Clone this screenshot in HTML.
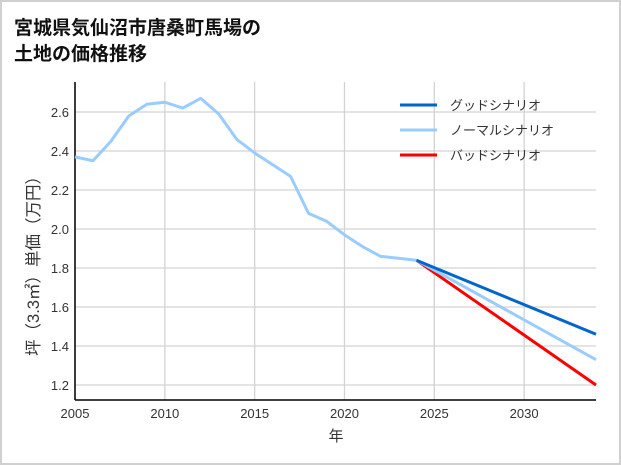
<!DOCTYPE html>
<html><head><meta charset="utf-8"><style>
body{margin:0;background:#fff;font-family:"Liberation Sans","Noto Sans CJK JP",sans-serif}
#frame{position:absolute;left:0;top:0;width:617px;height:461px;border:2px solid #d0d0d0;background:#fff}
</style></head><body>
<div id="frame"></div>
<svg id="c" width="621" height="465" style="position:absolute;left:0;top:0"></svg>
<script>
const years=[2005,2006,2007,2008,2009,2010,2011,2012,2013,2014,2015,2016,2017,2018,2019,2020,2021,2022,2023,2024];
const normal=[2.37,2.35,2.45,2.58,2.64,2.65,2.62,2.67,2.59,2.46,2.39,2.33,2.27,2.08,2.04,1.97,1.91,1.86,1.85,1.84];
const projYears=[2024,2034];
const good=[1.84,1.46];
const normProj=[1.84,1.33];
const bad=[1.84,1.20];
const xTicks=[2005,2010,2015,2020,2025,2030];
const yTicks=[1.2,1.4,1.6,1.8,2.0,2.2,2.4,2.6];
const NS="http://www.w3.org/2000/svg";
const svg=document.getElementById('c');
const L=75,R=596,T=82,B=400;
const X=v=>L+(v-2005)*(R-L)/29;
const Y=v=>385-(v-1.2)*195;
function mk(t,a){const e=document.createElementNS(NS,t);for(const k in a)e.setAttribute(k,a[k]);svg.appendChild(e);return e;}
function txt(s,x,y,a){const e=mk('text',Object.assign({x:x,y:y,'font-family':'"Liberation Sans","Noto Sans CJK JP",sans-serif'},a));e.textContent=s;return e;}
let t=txt('宮城県気仙沼市唐桑町馬場の',14,34,{'font-size':19,'font-weight':'bold',fill:'#111'});


t=txt('土地の価格推移',14,60,{'font-size':19,'font-weight':'bold',fill:'#111'});


xTicks.forEach(v=>{const g=mk('line',{x1:X(v),x2:X(v),y1:T,y2:B,stroke:'#d3d3d3','stroke-width':1.3});


const l=txt(String(v),X(v),418,{'font-size':13,'text-anchor':'middle',fill:'#333'});

});
yTicks.forEach(v=>{const g=mk('line',{x1:L,x2:R,y1:Y(v),y2:Y(v),stroke:'#d3d3d3','stroke-width':1.3});


const l=txt(v.toFixed(1),69,Y(v)+5,{'font-size':13,'text-anchor':'end',fill:'#333'});

});
let a=mk('line',{x1:L,x2:L,y1:T,y2:B,stroke:'#000','stroke-width':1.5});


a=mk('line',{x1:L,x2:R,y1:B,y2:B,stroke:'#000','stroke-width':1.5});


t=txt('年',336,441,{'font-size':15,'text-anchor':'middle',fill:'#333'});


t=txt('坪（3.3㎡）単価（万円）',0,0,{'font-size':16.5,'text-anchor':'middle',fill:'#333',transform:'translate(39,262) rotate(-90)'});


function line(xs,ys,col,name){const p=mk('polyline',{points:xs.map((x,i)=>X(x)+','+Y(ys[i])).join(' '),fill:'none',stroke:col,'stroke-width':3,'stroke-linejoin':'round'});

}
line(projYears,bad,'#ff0000','bad-scenario-line');
line(projYears,normProj,'#99ccff','normal-scenario-projection');
line(projYears,good,'#0066cc','good-scenario-line');
line(years,normal,'#99ccff','historical-price-line');
[['グッドシナリオ','#0066cc',105],['ノーマルシナリオ','#99ccff',130],['バッドシナリオ','#ff0000',155]].forEach(e=>{
const l=mk('line',{x1:400,x2:437,y1:e[2],y2:e[2],stroke:e[1],'stroke-width':3});


const s=txt(e[0],450,e[2]+5,{'font-size':13,fill:'#333'});

});
</script>
</body></html>
